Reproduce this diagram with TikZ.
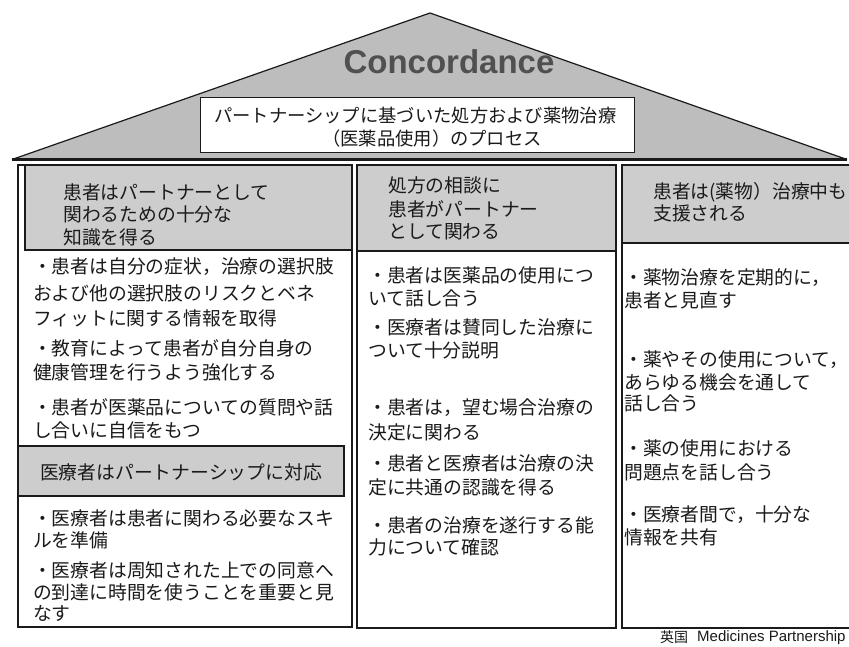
\documentclass[tikz,border=0pt]{standalone}
\usepackage{fontspec}
\setmainfont{Liberation Sans}
\newfontfamily\jp{Noto Sans CJK JP}
\definecolor{roofgray}{HTML}{BDBDBD}
\definecolor{hdrgray}{HTML}{CDCDCD}
\definecolor{concgray}{HTML}{505050}
\definecolor{inkc}{HTML}{1A1A1A}
\begin{document}
\begin{tikzpicture}[x=1pt,y=-1pt,
  roof/.style={fill=roofgray,draw=inkc,line width=1.2pt,line join=miter},
  colbox/.style={draw=inkc,line width=1.3pt,fill=white},
  hdr/.style={fill=hdrgray,draw=inkc,line width=1.3pt},
  txt/.style={anchor=west,inner sep=0pt,text=inkc,font=\jp\fontsize{18.8}{22}\selectfont},
  rtxt/.style={anchor=west,inner sep=0pt,text=inkc,font=\jp\fontsize{18.3}{22}\selectfont}]
\useasboundingbox (0,0) rectangle (849,646);
% roof
\coordinate (rl) at (12,159.5);
\coordinate (ra) at (430,13);
\coordinate (rr) at (847,159.5);
\filldraw[roof] (rl) -- (ra) -- (rr);
\draw[inkc,line width=2.6pt] (rl) -- (rr);
\node[anchor=base,inner sep=0pt,text=concgray,font=\bfseries\fontsize{33}{33}\selectfont] (conc) at (449,73) {Concordance};
\draw[colbox,line width=1pt] (200,97) rectangle (634,152);
\node[rtxt] (r1) at (214,116) {パートナーシップに基づいた処方および薬物治療};
\node[rtxt] (r2) at (322,139) {（医薬品使用）のプロセス};
% left column
\draw[colbox] (18,165) rectangle (352,627);
\draw[hdr] (25,165.5) rectangle (352,250);
\node[txt] (lh1) at (63,192) {患者はパートナーとして};
\node[txt] (lh2) at (63,214) {関わるための十分な};
\node[txt] (lh3) at (63,237) {知識を得る};
\node[txt] (l1) at (33,267) {・患者は自分の症状，治療の選択肢};
\node[txt] (l2) at (33,293) {および他の選択肢のリスクとベネ};
\node[txt] (l3) at (33,318) {フィットに関する情報を取得};
\node[txt] (l4) at (33,348) {・教育によって患者が自分自身の};
\node[txt] (l5) at (33,372) {健康管理を行うよう強化する};
\node[txt] (l6) at (33,407) {・患者が医薬品についての質問や話};
\node[txt] (l7) at (33,430) {し合いに自信をもつ};
\draw[hdr] (18,446) rectangle (344,496);
\node[txt,anchor=center] (lh4) at (181,472) {医療者はパートナーシップに対応};
\node[txt] (l8) at (33,518) {・医療者は患者に関わる必要なスキ};
\node[txt] (l9) at (33,540) {ルを準備};
\node[txt] (l10) at (33,570) {・医療者は周知された上での同意へ};
\node[txt] (l11) at (33,592) {の到達に時間を使うことを重要と見};
\node[txt] (l12) at (33,613) {なす};
% middle column
\draw[colbox] (357,165) rectangle (616,628);
\draw[hdr] (357,165.5) rectangle (616,251);
\node[txt] (mh1) at (388,185) {処方の相談に};
\node[txt] (mh2) at (388,209) {患者がパートナー};
\node[txt] (mh3) at (388,232) {として関わる};
\node[txt] (m1) at (368,275) {・患者は医薬品の使用につ};
\node[txt] (m2) at (368,298) {いて話し合う};
\node[txt] (m3) at (368,327) {・医療者は賛同した治療に};
\node[txt] (m4) at (368,350) {ついて十分説明};
\node[txt] (m5) at (368,408) {・患者は，望む場合治療の};
\node[txt] (m6) at (368,432) {決定に関わる};
\node[txt] (m7) at (368,463) {・患者と医療者は治療の決};
\node[txt] (m8) at (368,487) {定に共通の認識を得る};
\node[txt] (m9) at (368,525) {・患者の治療を遂行する能};
\node[txt] (m10) at (368,547) {力について確認};
% right column
\draw[colbox] (622,165) rectangle (870,628);
\draw[hdr] (622,165.5) rectangle (870,243);
\node[txt] (rh1) at (653,192) {患者は(薬物）治療中も};
\node[txt] (rh2) at (653,213) {支援される};
\node[txt] (q1) at (624,278) {・薬物治療を定期的に，};
\node[txt] (q2) at (624,300) {患者と見直す};
\node[txt] (q3) at (624,360) {・薬やその使用について，};
\node[txt] (q4) at (624,382) {あらゆる機会を通して};
\node[txt] (q5) at (624,403) {話し合う};
\node[txt] (q6) at (624,448) {・薬の使用における};
\node[txt] (q7) at (624,472) {問題点を話し合う};
\node[txt] (q8) at (624,515) {・医療者間で，十分な};
\node[txt] (q9) at (624,537) {情報を共有};
% footnote
\node[anchor=west,inner sep=0pt,text=inkc,font=\jp\fontsize{14}{16}\selectfont] (fn1) at (660,637.5) {英国};
\node[anchor=west,inner sep=0pt,text=inkc,font=\fontsize{15}{16}\selectfont] (fn2) at (697,637.5) {Medicines Partnership};
\end{tikzpicture}
\end{document}
